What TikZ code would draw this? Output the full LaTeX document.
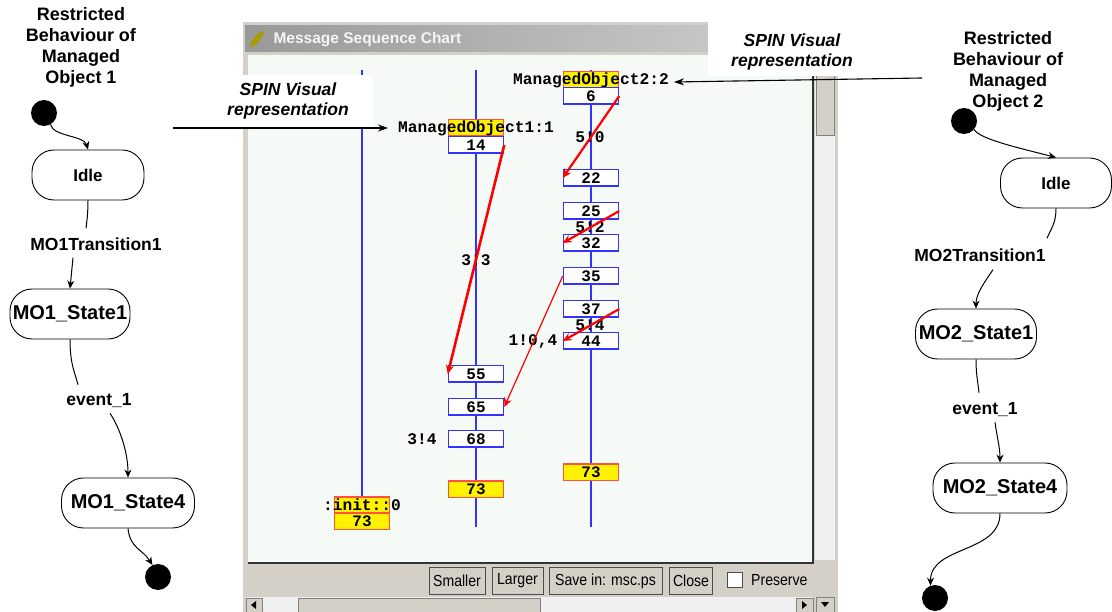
\documentclass[tikz,border=0pt]{standalone}
\usepackage{fontspec}
\setmainfont{Liberation Sans}
\setmonofont{Liberation Mono}
\newfontfamily\btnfont[FakeStretch=0.88]{Liberation Sans}
\usetikzlibrary{arrows.meta}
\definecolor{winGray}{HTML}{D4D0C8}
\definecolor{canvasBg}{HTML}{F5FAF7}
\definecolor{lifeBlue}{HTML}{3333FF}
\definecolor{boxRed}{HTML}{FF5040}
\begin{document}
\begin{tikzpicture}[x=1pt, y=-1pt,
    statebox/.style={draw, line width=0.9pt, rounded corners=22pt, minimum height=50pt, inner xsep=2pt, font=\bfseries\fontsize{20}{24}\selectfont},
    idlebox/.style={statebox, font=\bfseries\fontsize{17}{20}\selectfont},
    startdot/.style={circle, fill=black, minimum size=26pt, inner sep=0pt},
    headtext/.style={align=center, font=\bfseries\fontsize{18}{21}\selectfont},
    translabel/.style={inner xsep=2pt, inner ysep=5pt, font=\bfseries\fontsize{17.5}{20}\selectfont},
    conn/.style={line width=1pt},
    connarrow/.style={conn, -{Stealth[length=8pt, width=7pt]}},
    spin/.style={align=center, font=\bfseries\itshape\fontsize{17.5}{20}\selectfont},
    pointer/.style={line width=1.1pt, -{Stealth[length=10pt, width=7pt]}},
    life/.style={lifeBlue, line width=1.8pt},
    msgbox/.style={draw=lifeBlue, fill=white, line width=1.5pt, minimum width=55pt, minimum height=16.5pt, inner sep=0pt, font=\ttfamily\bfseries\fontsize{16}{16}\selectfont},
    endbox/.style={msgbox, fill=yellow, draw=boxRed},
    msctext/.style={inner sep=1pt, font=\ttfamily\bfseries\fontsize{16.2}{18}\selectfont},
    msg/.style={red, line width=2.2pt, -{Stealth[length=9pt, width=8pt]}},
    button/.style={draw=gray!60!black, fill=winGray, minimum height=27pt, inner sep=1pt, font=\btnfont\fontsize{16}{18}\selectfont},
  ]
  \useasboundingbox (0,0) rectangle (1112,612);

  % Left state machine
  \node[headtext] (head1) at (81,47) {Restricted\\Behaviour of\\Managed\\Object 1};
  \node[startdot] (init1) at (44,113) {};
  \node[idlebox, minimum width=112pt] (idle1) at (88,175) {Idle};
  \node[translabel] (trans1) at (96,244) {MO1Transition1};
  \node[statebox, minimum width=120pt] (st11) at (70,314) {MO1\_State1};
  \node[translabel] (ev1) at (99,401) {event\_1};
  \node[statebox, minimum width=133pt] (st14) at (128,503) {MO1\_State4};
  \node[startdot] (end1) at (158,577) {};

  \draw[connarrow] (init1.-60) .. controls +(2,12) and +(-4,-14) .. (idle1.north);
  \draw[conn] (idle1.south) .. controls +(0,12) and +(1,-8) .. ([xshift=-10pt,yshift=4pt]trans1.north);
  \draw[connarrow] ([xshift=-23pt,yshift=-2pt]trans1.south) -- (st11.north);
  \draw[conn] (st11.south) .. controls +(0,25) and +(-3,-12) .. ([xshift=-21pt,yshift=4pt]ev1.north);
  \draw[connarrow] ([xshift=11pt]ev1.south) .. controls +(10,15) and +(0,-25) .. (st14.north);
  \draw[connarrow] (st14.south) .. controls +(2,20) and +(-10,-16) .. (end1.115);

  % Right state machine
  \node[headtext] (head2) at (1008,71) {Restricted\\Behaviour of\\Managed\\Object 2};
  \node[startdot] (init2) at (964,121) {};
  \node[idlebox, minimum width=111pt] (idle2) at (1056,183) {Idle};
  \node[translabel] (trans2) at (980,255) {MO2Transition1};
  \node[statebox, minimum width=121pt] (st21) at (976,334) {MO2\_State1};
  \node[translabel] (ev2) at (985,410) {event\_1};
  \node[statebox, minimum width=134pt] (st24) at (1000,488) {MO2\_State4};
  \node[startdot] (end2) at (935,598) {};

  \draw[connarrow] (init2.-40) .. controls +(5,10) and +(-30,-8) .. (idle2.north);
  \draw[conn] (idle2.south) .. controls +(0,15) and +(4,-10) .. ([xshift=67pt,yshift=5pt]trans2.north);
  \draw[connarrow] ([xshift=13pt,yshift=-3pt]trans2.south) .. controls +(-8,12) and +(0,-15) .. (st21.north);
  \draw[conn] (st21.south) .. controls +(0,15) and +(-1,-10) .. ([xshift=-6pt,yshift=5pt]ev2.north);
  \draw[connarrow] ([xshift=10pt]ev2.south) .. controls +(2,15) and +(0,-15) .. (st24.north);
  \draw[connarrow] (st24.south) .. controls +(0,40) and +(0,-40) .. (end2.110);

  % Window
  \fill[winGray] (243,22) rectangle (838,612);
  \shade[left color=gray!80, right color=gray!35] (245,26) rectangle (836,52);
  \fill[olive!80!yellow, rotate around={50:(257,39)}] (257,39) ellipse (10 and 3);
  \node[anchor=west, text=white!92!gray, font=\bfseries\fontsize{15.5}{18}\selectfont] (wtitle) at (270,40) {Message Sequence Chart};
  \fill[canvasBg] (248,55) rectangle (813,563);
  \draw[gray!40!black, line width=1.2pt] (248,563) -- (813,563) -- (813,55);
  % Scrollbars
  \fill[gray!12] (815,55) rectangle (835,560);
  \filldraw[fill=winGray, draw=gray] (816,56) rectangle (834,135);
  \fill[gray!12] (246,597) rectangle (813,612);
  \filldraw[fill=winGray, draw=gray] (246,598) rectangle (262,612);
  \filldraw[fill=winGray, draw=gray] (298,598) rectangle (540,612);
  \filldraw[fill=winGray, draw=gray] (796,598) rectangle (813,612);
  \filldraw[fill=winGray, draw=gray] (816,597) rectangle (834,612);
  \fill (251,605) -- (256,601) -- (256,609) -- cycle;
  \fill (807,605) -- (802,601) -- (802,609) -- cycle;
  \fill (821,602) -- (829,602) -- (825,607) -- cycle;

  % Buttons
  \foreach \nm/\cx/\w/\txt in {smaller/457/56/Smaller, larger/517.5/51/Larger, save/605.5/113/{Save in: msc.ps}, close/691/43/Close}
    \node[button, minimum width=\w] (\nm) at (\cx,581) {\txt};
  \node[draw=gray!60!black, fill=white, minimum size=15pt, inner sep=0pt] (chk) at (735,580) {};
  \node[anchor=west, inner sep=0pt, font=\btnfont\fontsize{16}{18}\selectfont] (preserve) at (751,580) {Preserve};

  % Lifelines
  \coordinate (topA) at (362,70);
  \coordinate (topB) at (476,70);
  \coordinate (botB) at (476,527);
  \coordinate (topC) at (591,70);
  \coordinate (botC) at (591,527);
  \draw[life] (topA) -- (362,497);
  \draw[life] (topB) -- (botB);
  \draw[life] (topC) -- (botC);

  % Message labels
  \node[msctext] (l33) at (476,260) {3!3};
  \node[msctext] (l50) at (590,137) {5!0};
  \node[msctext] (l52) at (590,227) {5!2};
  \node[msctext] (l54) at (590,325) {5!4};
  \node[msctext] (l104) at (533,342) {1!0,4};
  \node[msctext] (l34) at (422,439) {3!4};

  % Process boxes
  \node[endbox] (hdrB) at (476,128) {};
  \node[msctext] (mo1lbl) at (476,128) {ManagedObject1:1};
  \foreach \nm/\y in {14/145, 55/374, 65/407, 68/439}
    \node[msgbox] (b\nm) at (476,\y) {\nm};
  \node[endbox] (b73) at (476,489) {73};

  \node[endbox] (hdrC) at (591,80) {};
  \node[msctext] (mo2lbl) at (591,80) {ManagedObject2:2};
  \foreach \nm/\y in {6/96, 22/178, 25/211, 32/243, 35/276, 37/309, 44/341}
    \node[msgbox] (c\nm) at (591,\y) {\nm};
  \node[endbox] (c73) at (591,472) {73};

  \node[endbox] (hdrA) at (362,505) {};
  \node[msctext] (initlbl) at (362,505) {:init::0};
  \node[endbox] (a73) at (362,521) {73};

  % Messages
  \draw[msg, line width=2.6pt] (b14.east) -- (b55.west);
  \draw[msg] (c6.east) -- (c22.west);
  \draw[msg] (c25.east) -- (c32.west);
  \draw[msg] (c37.east) -- (c44.west);
  \draw[msg, line width=1.2pt] (c35.west) -- (b65.east);

  % SPIN labels
  \fill[white] (240,75) rectangle (373,128);
  \node[spin] (spinL) at (288,101) {SPIN Visual\\representation};
  \coordinate (spinLfrom) at (173,128);
  \draw[pointer] (spinLfrom) -- ([xshift=-9pt]mo1lbl.west);
  \fill[white] (708,20) rectangle (882,76);
  \node[spin] (spinR) at (792,52) {SPIN Visual\\representation};
  \coordinate (spinRfrom) at (922,78);
  \draw[pointer] (spinRfrom) -- ([xshift=4pt,yshift=-2pt]mo2lbl.east);
\end{tikzpicture}
\end{document}
